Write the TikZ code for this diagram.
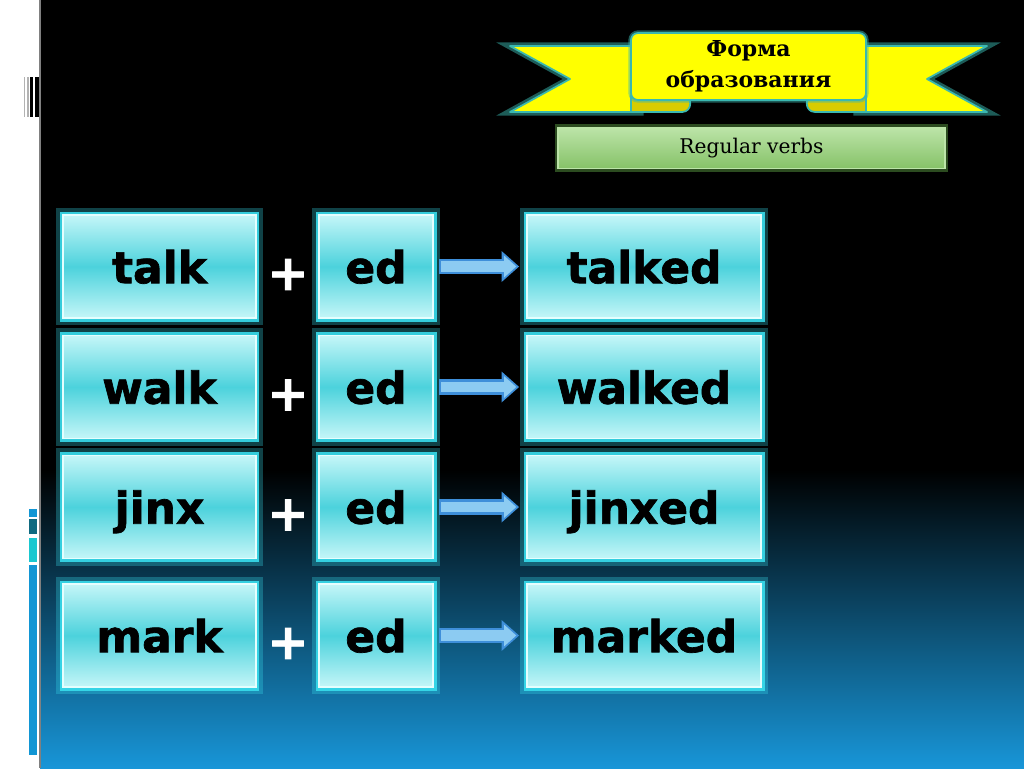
\documentclass[tikz,border=0pt]{standalone}
\usepackage{fontspec}
\setmainfont{DejaVu Serif}
\newfontfamily\boxfont[FakeBold=1.6]{DejaVu Sans Bold}
\usetikzlibrary{arrows.meta,positioning}
\definecolor{bgblue}{HTML}{1896D8}
\definecolor{boxtop}{HTML}{C4F6F8}
\definecolor{boxmid}{HTML}{4CD2DC}
\definecolor{boxedge}{HTML}{E4FEFE}
\definecolor{glow}{HTML}{38DCEC}
\definecolor{arrowfill}{HTML}{8CCBF2}
\definecolor{arrowedge}{HTML}{3E8FDA}
\definecolor{ribbon}{HTML}{FFFF00}
\definecolor{fold}{HTML}{D8CC00}
\definecolor{ribbonedge}{HTML}{3AB8B0}
\definecolor{greentop}{HTML}{BCE4A8}
\definecolor{greenbot}{HTML}{86C268}
\definecolor{greenglow}{HTML}{6FC050}
\definecolor{stripblue}{HTML}{1296D4}
\definecolor{stripteal}{HTML}{0F6A80}
\definecolor{stripcyan}{HTML}{1AC8D0}
\tikzset{
  wordbox/.style={minimum height=2.06cm,inner sep=0pt,
    text height=19pt,text depth=0pt,
    font=\boxfont\fontsize{25}{30}\selectfont,
    top color=boxtop,bottom color=boxtop,middle color=boxmid,
    draw=boxedge,line width=1pt,
    preaction={draw=glow,line width=8pt,opacity=0.3},
    preaction={draw=glow,line width=4pt,opacity=0.9}},
  plus/.style={text=white,font=\boxfont\fontsize{28}{30}\selectfont,inner sep=0pt},
  pointer/.style={draw=arrowedge,line width=9pt,
    -{Triangle[length=10pt,width=17pt]},shorten <=3pt,shorten >=4pt,
    postaction={draw=arrowfill,line width=6pt,
      -{Triangle[length=7pt,width=12pt]},shorten <=4pt,shorten >=5.6pt}},
  tagbox/.style={inner sep=0pt,font=\fontsize{11.5}{14}\selectfont,
    top color=greentop,bottom color=greenbot,draw=greentop,line width=0.8pt,
    preaction={draw=greenglow,line width=4pt,opacity=0.4}},
  ribbonpart/.style={fill=ribbon,draw=ribbonedge,line width=1pt,line join=round}
}
\begin{document}
\begin{tikzpicture}[x=0.02cm,y=-0.02cm]
\useasboundingbox (0,0) rectangle (1024,768);
% background
\fill[white] (0,0) rectangle (40,768);
\fill[black] (40,0) rectangle (1024,768);
\shade[top color=black,bottom color=bgblue] (40,470) rectangle (1024,768);
\draw[gray,line width=0.6pt] (40,0) -- (40,768);
\fill[gray!60] (24,77) rectangle (25,117);
\fill[gray!60] (27,77) rectangle (28.5,117);
\fill[black] (29.5,77) rectangle (33,117);
\fill[black] (35,77) rectangle (39,117);
\fill[stripblue] (29,509) rectangle (37,517);
\fill[stripteal] (29,519) rectangle (37,534);
\fill[stripcyan] (29,538) rectangle (37,562);
\fill[stripblue] (29,565) rectangle (37,755);

% ribbon
\path[ribbonpart,preaction={draw=ribbonedge,line width=4pt,opacity=0.5}]
  (510,46) -- (640,46) -- (640,112) -- (510,112) -- (570,79) -- cycle;
\path[ribbonpart,preaction={draw=ribbonedge,line width=4pt,opacity=0.5}]
  (987,46) -- (857,46) -- (857,112) -- (987,112) -- (927,79) -- cycle;
\path[ribbonpart,fill=fold] (631,95) -- (682,95) .. controls (693,95) and (693,112) .. (682,112) -- (631,112) -- cycle;
\path[ribbonpart,fill=fold] (866,95) -- (815,95) .. controls (804,95) and (804,112) .. (815,112) -- (866,112) -- cycle;
\path[ribbonpart,rounded corners=4pt,preaction={draw=ribbonedge,line width=3pt,opacity=0.5}]
  (631,33) -- (866,33) -- (866,100) -- (631,100) -- cycle;
\node[font=\bfseries\fontsize{12.5}{17.5}\selectfont,align=center] (title) at (748.5,66) {Форма\\образования};
\node[tagbox,minimum width=7.74cm,minimum height=0.82cm] (kind) at (751.5,148) {Regular verbs};

% verbs
\foreach \w/\r/\y [count=\i] in {talk/talked/266.5,walk/walked/387,jinx/jinxed/507,mark/marked/635.5}{
  \node[wordbox,minimum width=3.86cm] (word\i) at (159.5,\y) {\w};
  \node[wordbox,minimum width=2.28cm] (ed\i) at (376,\y) {ed};
  \node[wordbox,minimum width=4.68cm] (res\i) at (644,\y) {\r};
  \node[plus] (plus\i) at (288,\y+8) {+};
  \draw[pointer] (ed\i) -- (res\i);
}
\end{tikzpicture}
\end{document}
